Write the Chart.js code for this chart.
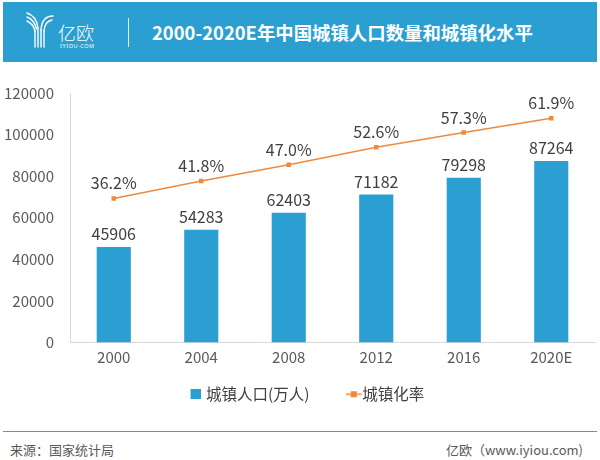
<!DOCTYPE html>
<html>
<head>
<meta charset="utf-8">
<script src="https://cdn.jsdelivr.net/npm/chart.js@4.4.1/dist/chart.umd.min.js"></script>
<style>
  html, body { margin: 0; padding: 0; background: #fff; }
  body { width: 600px; height: 460px; position: relative; overflow: hidden;
         font-family: "Noto Sans CJK SC", "Noto Sans", sans-serif; }
  #head { position: absolute; left: 3px; top: 2px; width: 594px; height: 60px; background: #2b9fd2; }
  #logo { position: absolute; left: 24px; top: 10px; }
  #sep { position: absolute; left: 128px; top: 18px; width: 1px; height: 29px; background: #ffffff; opacity: 0.85; }
  #title { position: absolute; left: 152px; top: 2px; height: 60px; line-height: 60px;
           color: #fff; font-weight: bold; font-size: 18.4px; white-space: nowrap; }
  #wrap { position: absolute; left: 0; top: 65px; width: 600px; height: 355px; }
  #foot { position: absolute; left: 3px; top: 431px; width: 594px; height: 1px; background: #3aa6d6; }
  #src { position: absolute; left: 10px; top: 440px; font-size: 13px; color: #595959; }
  #site { position: absolute; right: 17px; top: 440px; font-size: 13px; color: #595959; }
</style>
</head>
<body>
<div id="head"></div>
<svg id="logo" width="80" height="42" viewBox="0 0 80 42">
  <g fill="none" stroke="#fff" stroke-width="1.4" stroke-linecap="round">
    <path d="M3 3 C9 5 13 9 14 18"/>
    <path d="M3 7 C8 9 11 12 12.5 19"/>
    <path d="M3 11 C7 13 10 16 11 21"/>
    <path d="M29 6 C22 6 17.5 11 17 20"/>
    <path d="M28 10 C23 11 20.5 14 20 21"/>
    <path d="M11 21 L11 37"/>
    <path d="M14 18 L14 37"/>
    <path d="M17 20 L17 37"/>
    <path d="M20 21 L20 37"/>
  </g>
  <text x="34" y="29.5" fill="#fff" font-size="18" font-family="Noto Sans CJK SC" font-weight="300">亿欧</text>
  <text x="36" y="37.5" fill="#fff" font-size="5.5" font-family="Noto Sans" letter-spacing="0.6">IYIOU·COM</text>
</svg>
<div id="sep"></div>
<div id="title">2000-2020E年中国城镇人口数量和城镇化水平</div>
<div id="wrap"><canvas id="chart"></canvas></div>
<div id="foot"></div>
<div id="src">来源：国家统计局</div>
<div id="site">亿欧（www.iyiou.com)</div>
<script>
var years = ["2000", "2004", "2008", "2012", "2016", "2020E"];
var population = [45906, 54283, 62403, 71182, 79298, 87264];
var urbanRate = [36.2, 41.8, 47.0, 52.6, 57.3, 61.9];
var yTicks = [0, 20000, 40000, 60000, 80000, 100000, 120000];

var blue = "#2b9fd2";
var orange = "#ef8a3c";
var fontName = "'Noto Sans CJK SC', 'Noto Sans', sans-serif";

// legend icons (drawn a bit off-centre so they sit close to the text)
function boxIcon() {
  var c = document.createElement("canvas");
  c.width = 20; c.height = 10;
  var g = c.getContext("2d");
  g.fillStyle = blue;
  g.fillRect(10, 0, 10, 10);
  return c;
}
function lineIcon() {
  var c = document.createElement("canvas");
  c.width = 32; c.height = 10;
  var g = c.getContext("2d");
  g.strokeStyle = orange;
  g.lineWidth = 1.5;
  g.beginPath(); g.moveTo(15, 5); g.lineTo(31, 5); g.stroke();
  g.fillStyle = orange;
  g.fillRect(20, 2, 6, 6);
  return c;
}

// value labels above bars and points
var valueLabels = {
  id: "valueLabels",
  afterDatasetsDraw: function(chart) {
    var ctx = chart.ctx;
    ctx.save();
    ctx.font = "16px " + fontName;
    ctx.fillStyle = "#404040";
    ctx.textAlign = "center";
    ctx.textBaseline = "bottom";
    chart.getDatasetMeta(0).data.forEach(function(el, i) {
      ctx.fillText(population[i], el.x, el.y - 5);
    });
    chart.getDatasetMeta(1).data.forEach(function(el, i) {
      ctx.fillText(urbanRate[i].toFixed(1) + "%", el.x, el.y - 7);
    });
    ctx.restore();
  }
};

// the legend sits a little right of centre in the original
var legendShift = {
  id: "legendShift",
  afterLayout: function(chart) {
    chart.legend.left += 6;
    chart.legend.right += 6;
  }
};

var ctx = document.getElementById("chart");
var chart = new Chart(ctx, {
  type: "bar",
  data: {
    labels: years,
    datasets: [
      {
        label: "城镇人口(万人)",
        data: population,
        backgroundColor: blue,
        barPercentage: 0.39,
        categoryPercentage: 1,
        yAxisID: "y"
      },
      {
        type: "line",
        label: "城镇化率",
        data: urbanRate,
        borderColor: orange,
        borderWidth: 1.5,
        backgroundColor: orange,
        pointStyle: "rect",
        pointRadius: 3.2,
        pointBorderWidth: 0,
        pointBackgroundColor: orange,
        yAxisID: "y1"
      }
    ]
  },
  options: {
    responsive: true,
    maintainAspectRatio: false,
    animation: false,
    layout: { padding: { top: 28, right: 5, left: 0, bottom: 8 } },
    plugins: {
      tooltip: { enabled: false },
      legend: {
        display: true,
        position: "bottom",
        labels: {
          usePointStyle: true,
          color: "#404040",
          font: { size: 15.5, family: fontName },
          padding: 14,
          generateLabels: function(chart) {
            var items = Chart.defaults.plugins.legend.labels.generateLabels(chart);
            items[0].pointStyle = boxIcon();
            items[0].text = items[0].text + "\u2003";
            items[1].pointStyle = lineIcon();
            return items;
          }
        }
      }
    },
    scales: {
      x: {
        grid: { display: false, drawTicks: false },
        border: { display: true, color: "#d9d9d9" },
        ticks: { color: "#595959", font: { size: 15, family: fontName }, padding: 6 }
      },
      y: {
        min: 0,
        max: 120000,
        afterBuildTicks: function(scale) {
          scale.ticks = yTicks.map(function(v) { return { value: v }; });
        },
        afterFit: function(scale) { scale.width = 70; },
        grid: { display: false, drawTicks: false },
        border: { display: true, color: "#d9d9d9" },
        ticks: {
          color: "#595959",
          font: { size: 15, family: fontName },
          padding: 16,
          callback: function(v) { return String(v); }
        }
      },
      y1: {
        display: false,
        min: -10,
        max: 70
      }
    }
  },
  plugins: [valueLabels, legendShift]
});
</script>
</body>
</html>
